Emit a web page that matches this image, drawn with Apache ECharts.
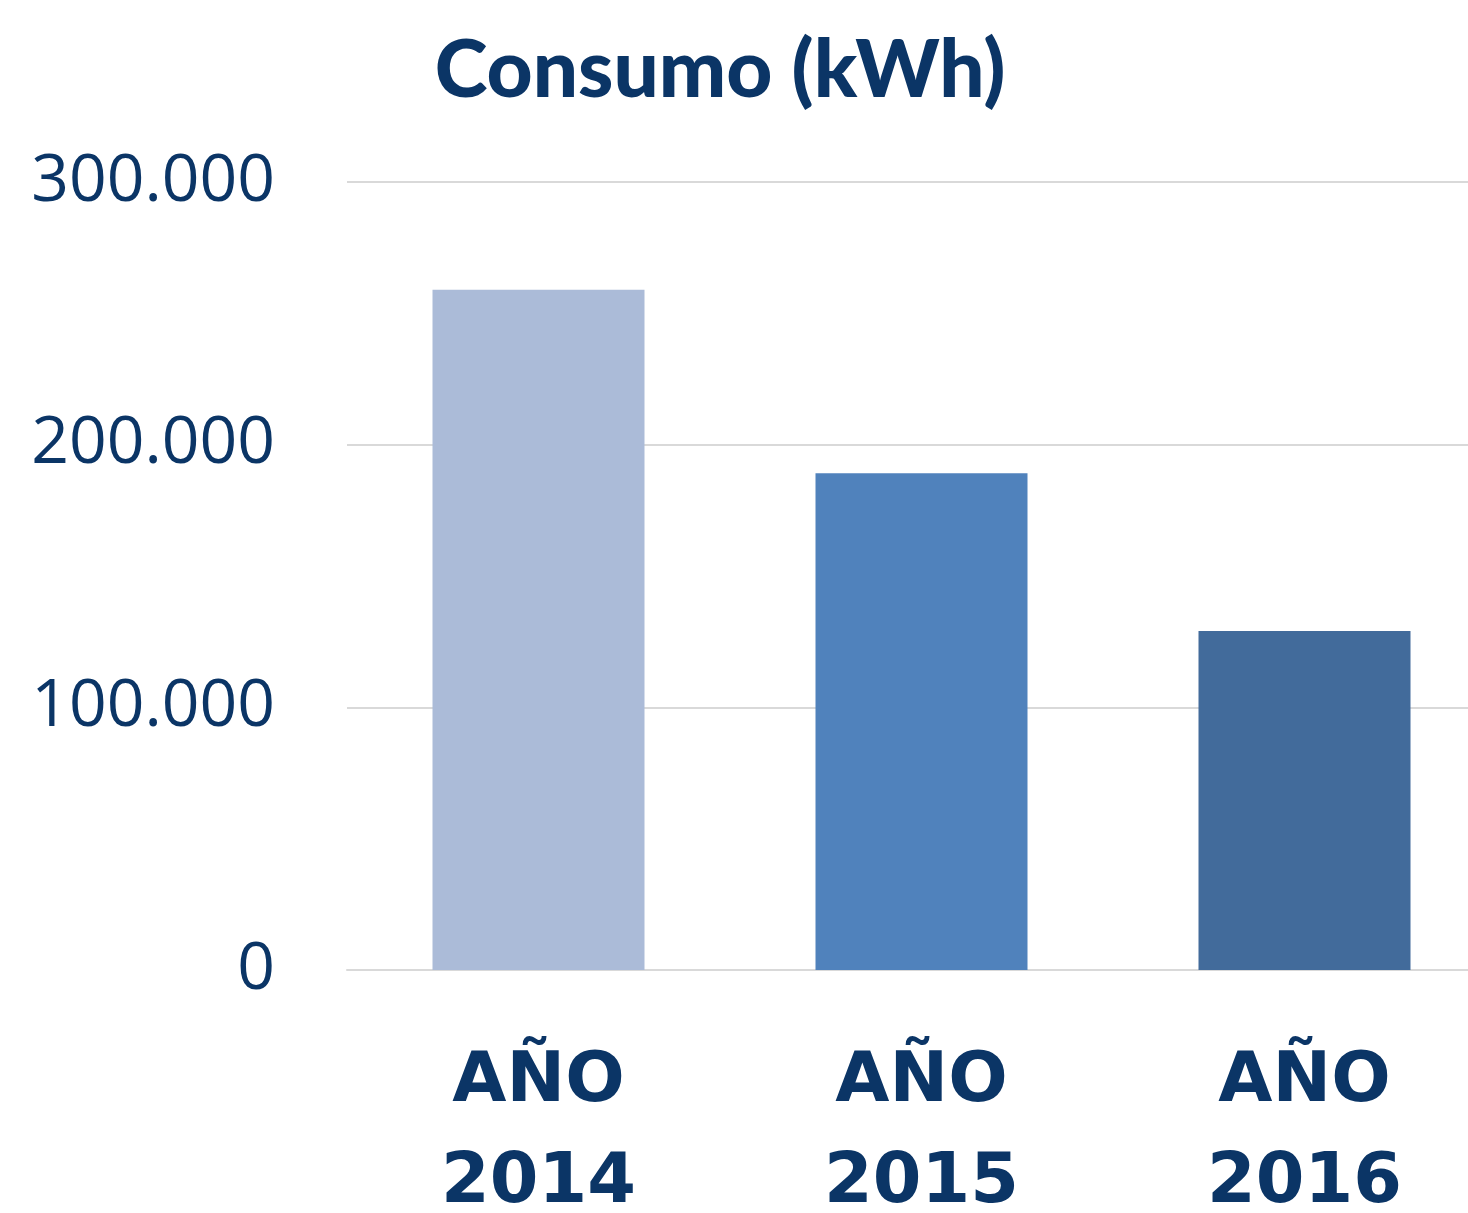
<!DOCTYPE html>
<html>
<head>
<meta charset="utf-8">
<title>Consumo (kWh)</title>
<script src="https://cdn.jsdelivr.net/npm/echarts@6/dist/echarts.min.js"></script>
<style>
  html, body { margin: 0; padding: 0; background: #fff; }
  #chart { width: 1468px; height: 1213px; }
</style>
</head>
<body>
<div id="chart"></div>
<script>
// data
var categories = ['AÑO\n2014', 'AÑO\n2015', 'AÑO\n2016'];
var consumo = [259000, 189100, 129100];
var barColors = ['#abbbd8', '#5082bc', '#426b9b'];
var yTicks = [0, 100000, 200000, 300000];

var navy = '#0b3566';

function fmtMiles(v) {
  return String(v).replace(/\B(?=(\d{3})+(?!\d))/g, '.');
}

var chart = echarts.init(document.getElementById('chart'));
chart.setOption({
  animation: false,
  title: {
    text: 'Consumo (kWh)',
    left: 715,
    textAlign: 'center',
    top: 26,
    textStyle: { color: navy, fontFamily: 'Lato', fontWeight: 900, fontSize: 80 }
  },
  grid: { left: 347, right: -28, top: 182, bottom: 243, outerBoundsMode: 'none', containLabel: false },
  xAxis: {
    type: 'category',
    data: categories,
    axisLine: { lineStyle: { color: '#d9d9d9', width: 2 } },
    axisTick: { show: false },
    axisLabel: {
      color: navy, fontFamily: 'DejaVu Sans', fontWeight: 'bold',
      fontSize: 70, lineHeight: 101, margin: 62
    }
  },
  yAxis: {
    type: 'value',
    min: yTicks[0],
    max: yTicks[yTicks.length - 1],
    interval: yTicks[1] - yTicks[0],
    axisLine: { show: false },
    axisTick: { show: false },
    splitLine: { lineStyle: { color: '#d9d9d9', width: 2 } },
    axisLabel: {
      color: navy, fontFamily: 'Open Sans', fontSize: 66, margin: 72,
      padding: [16, 0, 0, 0],
      formatter: fmtMiles
    }
  },
  series: [{
    type: 'bar',
    barWidth: 212,
    data: consumo.map(function (v, i) {
      return { value: v, itemStyle: { color: barColors[i] } };
    })
  }]
});
</script>
</body>
</html>
